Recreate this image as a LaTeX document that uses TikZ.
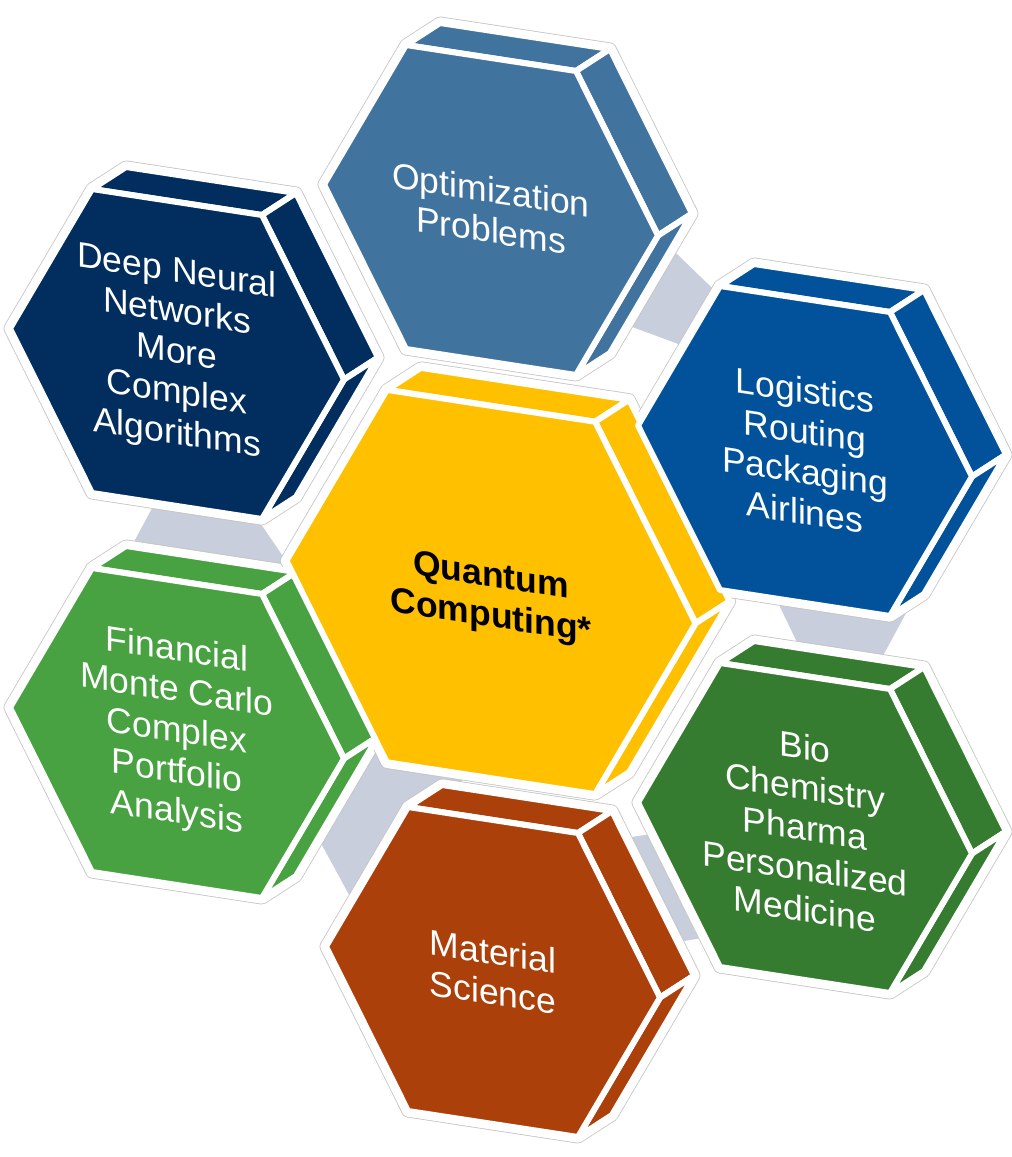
\documentclass[tikz,border=0pt]{standalone}
\usepackage{fontspec}
\setmainfont{Liberation Sans}
\usepackage{tikz}
\usetikzlibrary{calc}
\definecolor{optblue}{HTML}{41739F}
\definecolor{dnnblue}{HTML}{012E5E}
\definecolor{logblue}{HTML}{01529B}
\definecolor{qcyellow}{HTML}{FFC000}
\definecolor{fingreen}{HTML}{48A241}
\definecolor{biogreen}{HTML}{367C30}
\definecolor{matbrown}{HTML}{AC400A}
\definecolor{linkgrey}{HTML}{C9CEDD}
\definecolor{ringgrey}{HTML}{C4C4C4}

\tikzset{
  face/.style={draw=white, line width=6pt, line join=round},
  halo/.style={fill=white, draw=white, line width=11.4pt, line join=round,
    preaction={draw=ringgrey, line width=13pt, line join=round}},
  link/.style={fill=linkgrey},
  hexlabel/.style={font=\fontsize{35.5}{40.5}\selectfont, align=center,
    yslant=-0.153, inner sep=0pt}
}

\begin{document}
\begin{tikzpicture}[x=1pt, y=-1pt]
  \useasboundingbox (0,0) rectangle (1012,1157);

  % Cell corners: front face, then back face (k)
  \foreach \n/\cx/\cy/\k in {opt/491/210/1, dnn/177/354/1, fin/177/733/1,
      qc/491/592/1.225, log/805/451/1, bio/805/828/1, mat/493/972/1} {
    \coordinate (\n) at (\cx,\cy);
    \begin{scope}[shift={(\cx,\cy)}, yslant=-0.153, scale=\k]
      \coordinate (\n-tl) at (-85,-152);
      \coordinate (\n-tr) at (85,-152);
      \coordinate (\n-r) at (167,0);
      \coordinate (\n-br) at (85,152);
      \coordinate (\n-bl) at (-85,152);
      \coordinate (\n-l) at (-167,0);
    \end{scope}
    \foreach \v in {tl,tr,r,br}
      \coordinate (\n-k\v) at ($(\n-\v)+(34,-22)$);
  }

  % Grey links behind the cells
  \fill[link] ($(dnn)+(-12,130)$) -- ($(dnn)+(69,148)$)
    -- ($(fin)+(120,-156)$) -- ($(fin)+(-57,-165)$) -- cycle;
  \fill[link] ($(opt)+(158,17)$) -- ($(log)+(-69,-140)$)
    -- ($(log)+(-94,-95)$) -- ($(opt)+(106,104)$) -- cycle;
  \fill[link] ($(log)+(-40,125)$) -- ($(log)+(120,127)$)
    -- ($(bio)+(60,-139)$) -- ($(bio)+(5,-159)$) -- cycle;
  \fill[link] ($(fin)+(183,12)$) -- ($(mat)+(-23,-202)$)
    -- ($(mat)+(-133,-57)$) -- ($(fin)+(133,90)$) -- cycle;
  \fill[link] ($(mat)+(117,-132)$) -- ($(bio)+(-125,2)$)
    -- ($(bio)+(-85,107)$) -- ($(mat)+(167,-27)$) -- cycle;

  % White outline round each cell
  \foreach \n in {opt,dnn,fin,qc,log,bio,mat} {
    \draw[halo] (\n-tl) -- (\n-ktl) -- (\n-ktr) -- (\n-kr) -- (\n-kbr)
      -- (\n-br) -- (\n-bl) -- (\n-l) -- cycle;
  }

  % Cells: top, two side faces, front face and label
  \foreach \n/\col/\tc/\dy/\txt in {
      opt/optblue/white/0/{Optimization\\Problems},
      dnn/dnnblue/white/0/{Deep Neural\\Networks\\More\\Complex\\Algorithms},
      fin/fingreen/white/0/{Financial\\Monte Carlo\\Complex\\Portfolio\\Analysis},
      qc/qcyellow/black/6/{\textbf{Quantum}\\\textbf{Computing*}},
      log/logblue/white/0/{Logistics\\Routing\\Packaging\\Airlines},
      bio/biogreen/white/0/{Bio\\Chemistry\\Pharma\\Personalized\\Medicine},
      mat/matbrown/white/0/{Material\\Science}} {
    \filldraw[face, fill=\col] (\n-tl) -- (\n-tr) -- (\n-ktr) -- (\n-ktl) -- cycle;
    \filldraw[face, fill=\col] (\n-tr) -- (\n-r) -- (\n-kr) -- (\n-ktr) -- cycle;
    \filldraw[face, fill=\col] (\n-r) -- (\n-br) -- (\n-kbr) -- (\n-kr) -- cycle;
    \filldraw[face, fill=\col] (\n-tl) -- (\n-tr) -- (\n-r) -- (\n-br)
      -- (\n-bl) -- (\n-l) -- cycle;
    \node[hexlabel, text=\tc] (\n-label) at ($(\n)+(0,\dy)$) {\txt};
  }
\end{tikzpicture}
\end{document}
